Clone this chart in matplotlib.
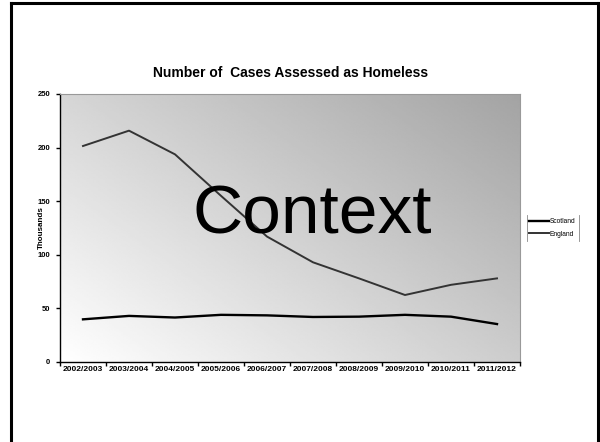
import numpy as np
import matplotlib
matplotlib.use("Agg")
import matplotlib.pyplot as plt

plt.rcParams['font.family'] = ['Liberation Sans', 'DejaVu Sans']

# data (thousands of cases)
years = ["2002/2003", "2003/2004", "2004/2005", "2005/2006", "2006/2007",
         "2007/2008", "2008/2009", "2009/2010", "2010/2011", "2011/2012"]
scotland = [39.8, 43.0, 41.5, 44.0, 43.5, 42.0, 42.3, 44.0, 42.3, 35.4]
england = [201.5, 215.8, 193.7, 155.0, 117.0, 93.0, 78.0, 62.5, 72.0, 78.0]
y_ticks = [0, 50, 100, 150, 200, 250]

fig = plt.figure(figsize=(6, 4.42), dpi=100)

def fig_line(xs, ys, **kw):
    # pixel coords -> figure fraction
    fig.add_artist(plt.Line2D([v / 600 for v in xs], [1 - v / 442 for v in ys],
                              transform=fig.transFigure, **kw))

# slide frame (left, top, right; bottom runs off the page)
fig_line([11, 11], [3, 442], color='black', lw=2.2)
fig_line([11, 598], [3, 3], color='black', lw=2.2)
fig_line([598, 598], [3, 442], color='black', lw=2.2)

# plot area: x 60..520, y 94..362 (pixels)
ax = fig.add_axes([60 / 600, 1 - 362 / 442, 460 / 600, 268 / 442])

# gradient fill, white bottom-left -> grey top-right
gx, gy = np.meshgrid(np.linspace(0, 1, 200), np.linspace(0, 1, 200))
g = (gx * 0.55 + gy * 0.45)
grad = 1.0 - 0.36 * g
ax.imshow(grad, cmap='gray', vmin=0, vmax=1, extent=[0, 1, 0, 1], origin='lower',
          transform=ax.transAxes, aspect='auto', zorder=0, interpolation='bilinear')

x = np.arange(len(years))
ax.plot(x, scotland, color='black', lw=1.7, label='Scotland', zorder=3)
ax.plot(x, england, color='#333333', lw=1.4, label='England', zorder=3)

ax.set_xlim(-0.5, len(years) - 0.5)
ax.set_ylim(0, 250)
ax.set_yticks(y_ticks)
ax.set_yticklabels([str(v) for v in y_ticks], fontsize=5.5, fontweight='bold')
ax.set_xticks(x)
ax.set_xticklabels(years, fontsize=6.0, fontweight='bold')
ax.tick_params(axis='x', length=0, pad=3)
ax.set_xticks(np.arange(-0.5, len(years), 1), minor=True)
ax.tick_params(axis='x', which='minor', length=3, width=1, direction='out')
ax.tick_params(axis='y', length=3, width=1, direction='out', pad=4)

for s in ['top', 'right']:
    ax.spines[s].set_color('#999999')
    ax.spines[s].set_linewidth(0.8)
for s in ['left', 'bottom']:
    ax.spines[s].set_color('black')
    ax.spines[s].set_linewidth(1.0)

ax.set_ylabel('Thousands', fontsize=5.8, fontweight='bold', labelpad=-5)

fig.text(291 / 600, 1 - 73 / 442, 'Number of  Cases Assessed as Homeless',
         fontsize=10, fontweight='bold', ha='center', va='center')

# big overlay text
fig.text(312 / 600, 1 - 215 / 442, 'Context', fontsize=50, ha='center', va='center',
         color='black', zorder=5)

leg = fig.legend(loc='center left', bbox_to_anchor=(528 / 600, 1 - 228 / 442),
                 fontsize=4.8, frameon=False, handlelength=3.0, handletextpad=0.05,
                 borderpad=0.2, labelspacing=0.8, borderaxespad=0)
# legend box only shows its left and right edges
fig_line([527, 527], [215, 241], color='#888888', lw=0.6)
fig_line([579, 579], [215, 241], color='#888888', lw=0.6)

fig.savefig('out.png', dpi=100)
